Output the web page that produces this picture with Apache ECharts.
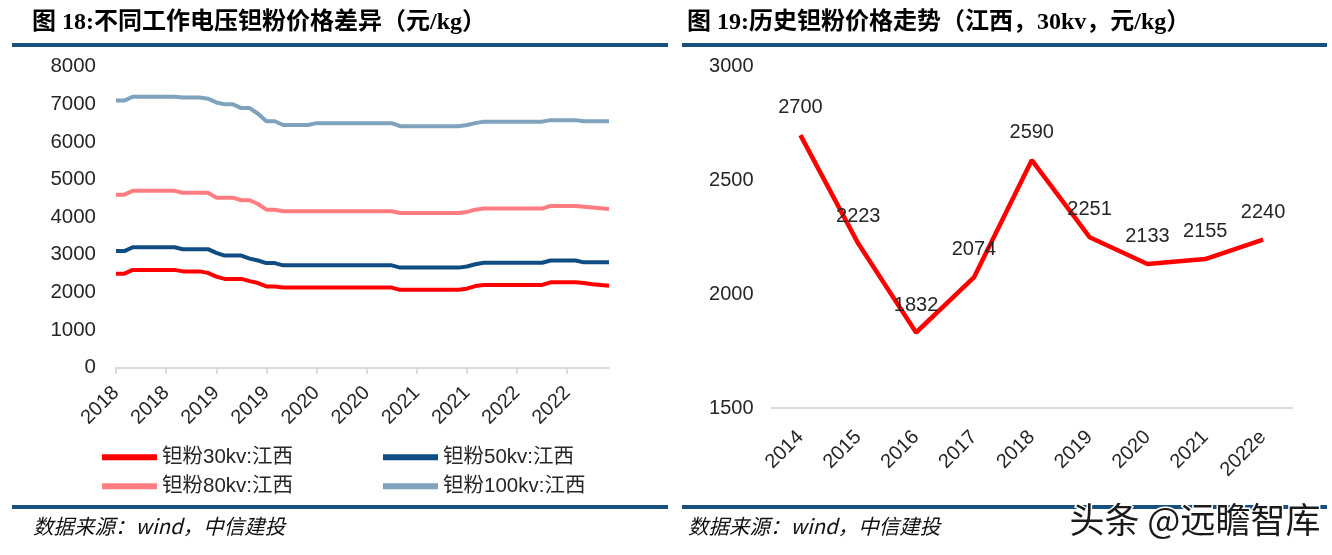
<!DOCTYPE html>
<html><head><meta charset="utf-8">
<script src="https://cdn.jsdelivr.net/npm/echarts@6/dist/echarts.min.js"></script>
<style>html,body{margin:0;padding:0;background:#fff}#c{width:1332px;height:555px}</style>
</head><body><div id="c"></div>
<script>
// ---- Left chart data (monthly, 2018-01 .. 2022-12) ----
const months = [
 "2018-01","2018-02","2018-03","2018-04","2018-05","2018-06","2018-07","2018-08","2018-09","2018-10","2018-11","2018-12",
 "2019-01","2019-02","2019-03","2019-04","2019-05","2019-06","2019-07","2019-08","2019-09","2019-10","2019-11","2019-12",
 "2020-01","2020-02","2020-03","2020-04","2020-05","2020-06","2020-07","2020-08","2020-09","2020-10","2020-11","2020-12",
 "2021-01","2021-02","2021-03","2021-04","2021-05","2021-06","2021-07","2021-08","2021-09","2021-10","2021-11","2021-12",
 "2022-01","2022-02","2022-03","2022-04","2022-05","2022-06","2022-07","2022-08","2022-09","2022-10","2022-11","2022-12"
];
const p30 = [2500,2500,2600,2600,2600,2600,2600,2600,2560,2560,2560,2520,
 2420,2360,2360,2360,2300,2250,2160,2160,2130,2130,2130,2130,
 2130,2130,2130,2130,2130,2130,2130,2130,2130,2130,2070,2070,
 2070,2070,2070,2070,2070,2070,2100,2170,2200,2200,2200,2200,
 2200,2200,2200,2200,2270,2270,2270,2270,2250,2220,2200,2180];
const p50 = [3100,3100,3200,3200,3200,3200,3200,3200,3150,3150,3150,3150,
 3050,2980,2980,2980,2900,2850,2780,2780,2720,2720,2720,2720,
 2720,2720,2720,2720,2720,2720,2720,2720,2720,2720,2660,2660,
 2660,2660,2660,2660,2660,2660,2690,2750,2790,2790,2790,2790,
 2790,2790,2790,2790,2850,2850,2850,2850,2800,2800,2800,2800];
const p80 = [4600,4600,4700,4700,4700,4700,4700,4700,4650,4650,4650,4650,
 4520,4520,4520,4450,4450,4350,4200,4200,4160,4160,4160,4160,
 4160,4160,4160,4160,4160,4160,4160,4160,4160,4160,4110,4110,
 4110,4110,4110,4110,4110,4110,4140,4200,4230,4230,4230,4230,
 4230,4230,4230,4230,4300,4300,4300,4300,4280,4260,4240,4220];
const p100 = [7100,7100,7200,7200,7200,7200,7200,7200,7180,7180,7180,7150,
 7050,7000,7000,6900,6900,6750,6550,6550,6450,6450,6450,6450,
 6500,6500,6500,6500,6500,6500,6500,6500,6500,6500,6420,6420,
 6420,6420,6420,6420,6420,6420,6450,6500,6540,6540,6540,6540,
 6540,6540,6540,6540,6580,6580,6580,6580,6550,6550,6550,6550];
const leftTicks = [0,1000,2000,3000,4000,5000,6000,7000,8000];

// ---- Right chart data ----
const years = ["2014","2015","2016","2017","2018","2019","2020","2021","2022e"];
const hist30 = [2700,2223,1832,2074,2590,2251,2133,2155,2240];
const rightTicks = [1500,2000,2500,3000];

const names = ["钽粉30kv:江西","钽粉50kv:江西","钽粉80kv:江西","钽粉100kv:江西"];
const colors = ["#FF0000","#0F4C81","#FF7C80","#7FA2BD"];

const chart = echarts.init(document.getElementById('c'), null, {renderer:'canvas'});
const sans = "'Liberation Sans', Arial, 'Noto Sans CJK SC', sans-serif";
const titleFont = "'Liberation Serif', 'Noto Sans CJK SC', serif";
const txt = '#262626';
const ruleColor = '#17507F';
const plain = function(v){ return String(v); };

function legendItem(i, left, top){
  return {data:[names[i]], left:left, top:top, padding:0, icon:'rect', itemWidth:55, itemHeight:6, itemGap:0,
    textStyle:{fontSize:20.5, color:txt, fontFamily:sans}, selectedMode:false};
}

const option = {
  animation:false,
  backgroundColor:'#fff',
  grid:[
    {left:116, top:66.7, width:493, height:301},
    {left:771.5, top:66.9, width:520.5, height:341.1}
  ],
  xAxis:[
    {type:'category', gridIndex:0, data:months, boundaryGap:false,
     axisLine:{lineStyle:{color:'#D9D9D9', width:2}},
     axisTick:{show:true, interval:5, length:6, lineStyle:{color:'#D9D9D9', width:2}},
     axisLabel:{interval:5, rotate:45, margin:22, fontSize:20, color:txt, fontFamily:sans,
       formatter:function(v){return v.slice(0,4);}},
     splitLine:{show:false}},
    {type:'category', gridIndex:1, data:years, boundaryGap:true,
     axisLine:{lineStyle:{color:'#D9D9D9', width:2}},
     axisTick:{show:false},
     axisLabel:{interval:0, rotate:45, margin:26, fontSize:20, color:txt, fontFamily:sans},
     splitLine:{show:false}}
  ],
  yAxis:[
    {type:'value', gridIndex:0, min:leftTicks[0], max:leftTicks[leftTicks.length-1], interval:1000,
     axisLine:{show:false}, axisTick:{show:false}, splitLine:{show:false},
     axisLabel:{margin:20, fontSize:20.5, color:txt, fontFamily:sans, formatter:plain}},
    {type:'value', gridIndex:1, min:rightTicks[0], max:rightTicks[rightTicks.length-1], interval:500,
     axisLine:{show:false}, axisTick:{show:false}, splitLine:{show:false},
     axisLabel:{margin:18, fontSize:20, color:txt, fontFamily:sans, formatter:plain}}
  ],
  legend:[
    legendItem(0, 102, 447), legendItem(1, 383, 447),
    legendItem(2, 102, 476), legendItem(3, 383, 476)
  ],
  series:[
    {name:names[3], type:'line', xAxisIndex:0, yAxisIndex:0, data:p100, symbol:'none', color:colors[3], lineStyle:{width:4, color:colors[3]}},
    {name:names[2], type:'line', xAxisIndex:0, yAxisIndex:0, data:p80, symbol:'none', color:colors[2], lineStyle:{width:4, color:colors[2]}},
    {name:names[1], type:'line', xAxisIndex:0, yAxisIndex:0, data:p50, symbol:'none', color:colors[1], lineStyle:{width:4, color:colors[1]}},
    {name:names[0], type:'line', xAxisIndex:0, yAxisIndex:0, data:p30, symbol:'none', color:colors[0], lineStyle:{width:4, color:colors[0]}},
    {name:'hist', type:'line', xAxisIndex:1, yAxisIndex:1, data:hist30, symbol:'circle', symbolSize:1,
     itemStyle:{color:'rgba(0,0,0,0)'}, lineStyle:{width:4.5, color:'#FF0000'},
     label:{show:true, position:'top', distance:17, fontSize:20, color:txt, fontFamily:sans}}
  ],
  graphic:[
    {type:'text', left:32, top:11, style:{text:'图 18:不同工作电压钽粉价格差异（元/kg）', font:"bold 24px "+titleFont, fill:'#000'}},
    {type:'text', left:687, top:11, style:{text:'图 19:历史钽粉价格走势（江西，30kv，元/kg）', font:"bold 24px "+titleFont, fill:'#000'}},
    {type:'rect', shape:{x:12, y:43, width:656, height:4}, style:{fill:ruleColor}},
    {type:'rect', shape:{x:682, y:43, width:645, height:4}, style:{fill:ruleColor}},
    {type:'rect', shape:{x:12, y:505, width:656, height:4}, style:{fill:ruleColor}},
    {type:'rect', shape:{x:682, y:505, width:645, height:4}, style:{fill:ruleColor}},
    {type:'text', left:33, top:516, style:{text:'数据来源：wind，中信建投', font:"italic 20.5px 'Noto Sans CJK SC', sans-serif", fill:'#111'}},
    {type:'text', left:688, top:516, style:{text:'数据来源：wind，中信建投', font:"italic 20.5px 'Noto Sans CJK SC', sans-serif", fill:'#111'}},
    {type:'text', left:1068, top:501, z:100, style:{text:'头条 @远瞻智库', font:"35px 'Noto Sans CJK SC', sans-serif", fill:'#1a1a1a', stroke:'#fff', lineWidth:3}}
  ]
};
chart.setOption(option);
</script>
</body></html>
